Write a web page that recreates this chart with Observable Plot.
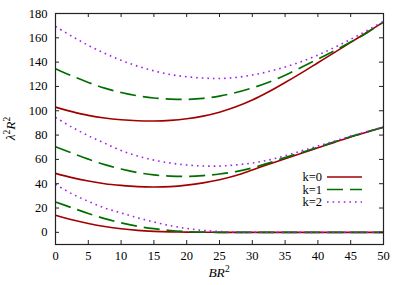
<!DOCTYPE html>
<html><head><meta charset="utf-8">
<script src="https://cdn.jsdelivr.net/npm/d3@7"></script>
<script src="https://cdn.jsdelivr.net/npm/@observablehq/plot@0.6"></script>
<style>body{margin:0;background:#fff} #chart svg{display:block} #chart svg text{font-family:"Liberation Serif","Times New Roman","DejaVu Serif",serif !important}</style>
</head><body><div id="chart"></div>
<script>
// x values (B R^2)
const xs = [0,2.5,5,7.5,10,12.5,15,17.5,20,22.5,25,27.5,30,32.5,35,37.5,40,42.5,45,47.5,50];
// lowest branch
const low_k0 = [14,10.3,7.3,4.8,2.9,1.6,0.8,0.35,0.15,0.05,0,0,0,0,0,0,0,0,0,0,0];
const low_k1 = [25,20.2,15.5,11.3,7.8,5,3,1.5,0.6,0.2,0.05,0,0,0,0,0,0,0,0,0,0];
const low_k2 = [39.5,31.7,25.5,20,16,12,8.5,5.5,3.2,1.6,0.7,0.25,0.1,0,0,0,0,0,0,0,0];
// middle branch
const mid_k0 = [48.5,45,42.2,40,38.6,37.6,37.3,37.6,38.8,40.7,43.3,46.8,51.3,56,60.5,65,69.5,74,78.5,82.5,86.5];
const mid_k1 = [70.4,65.2,60.2,55.7,52.1,49.2,47.2,46.2,46,46.7,48,50,53,57,61.5,65.7,70,74.4,78.7,82.6,86.5];
const mid_k2 = [94.5,86.5,79.5,73.3,67.3,62.8,59.4,57,55.4,54.6,54.5,55.5,57,59.5,63,67,71,75,79.2,83,86.8];
// upper branch
const up_k0 = [103,99.3,96.2,94,92.6,91.8,91.6,92.1,93.4,95.6,98.8,103.2,108.8,115.6,123.2,131.2,139.5,147.8,156.2,164.6,173];
const up_k1 = [134.6,128.7,123.3,118.6,115,112.3,110.5,109.6,109.4,110.2,112.1,115,118.8,123.5,129.2,135.8,142.5,149.3,156.5,164.2,173];
const up_k2 = [169.3,161.3,153.8,147.3,141.5,136.7,132.8,129.8,128,126.9,126.5,127.4,129.4,132.3,136,140.5,145.8,152,158.8,166,173.5];

const xTicks = [0,5,10,15,20,25,30,35,40,45,50];
const yTicks = [0,20,40,60,80,100,120,140,160,180];
const legendLabels = ["k=0","k=1","k=2"];

const series = [
  {k:0, n:"low", ys:low_k0},{k:1, n:"low", ys:low_k1},{k:2, n:"low", ys:low_k2},
  {k:0, n:"mid", ys:mid_k0},{k:1, n:"mid", ys:mid_k1},{k:2, n:"mid", ys:mid_k2},
  {k:0, n:"up", ys:up_k0},{k:1, n:"up", ys:up_k1},{k:2, n:"up", ys:up_k2}
];
const rows = series.flatMap(s => s.ys.map((y,i) => ({x: xs[i], y, k: s.k, id: s.n + s.k})));

const styles = [
  {stroke:"#a00000", strokeWidth:1.6, strokeDasharray:null, strokeLinecap:"butt"},
  {stroke:"#006f00", strokeWidth:1.7, strokeDasharray:"16,7", strokeLinecap:"butt"},
  {stroke:"#a020f0", strokeWidth:1.6, strokeDasharray:"1.6,4", strokeLinecap:"butt"}
];

const FONT = '"Liberation Serif","Times New Roman","DejaVu Serif",serif';
const W = 407, H = 285, mL = 55, mR = 24, mT = 13, mB = 41;
const innerW = W - mL - mR, innerH = H - mT - mB, tk = 4;

const plot = Plot.plot({
  width: W, height: H,
  marginLeft: mL, marginRight: mR, marginTop: mT, marginBottom: mB,
  style: {fontFamily: FONT, fontSize: "12.5px", color: "#000", background: "#fff"},
  x: {domain: [0, 50], ticks: xTicks},
  y: {domain: [-10, 180], ticks: yTicks},
  marks: [
    ...styles.map((st, k) => Plot.line(rows.filter(d => d.k === k), {
      x: "x", y: "y", z: "id", curve: "catmull-rom", clip: true,
      stroke: st.stroke, strokeWidth: st.strokeWidth, strokeDasharray: st.strokeDasharray, strokeLinecap: st.strokeLinecap
    })),
    Plot.ruleX(xTicks, {x: d => d, insetTop: innerH - tk, stroke: "#222", strokeWidth: 1}),
    Plot.ruleX(xTicks, {x: d => d, insetBottom: innerH - tk, stroke: "#222", strokeWidth: 1}),
    Plot.ruleY(yTicks, {y: d => d, insetRight: innerW - tk, stroke: "#222", strokeWidth: 1}),
    Plot.ruleY(yTicks, {y: d => d, insetLeft: innerW - tk, stroke: "#222", strokeWidth: 1}),
    Plot.axisX(xTicks, {tickSize: 0, tickPadding: 7, label: null, fontSize: 12.5}),
    Plot.axisY(yTicks, {tickSize: 0, tickPadding: 8, label: null, fontSize: 12.5}),
    Plot.frame({stroke: "#222", strokeWidth: 1.2})
  ]
});

const svg = d3.select(plot);
// axis titles
const xl = svg.append("text").attr("x", mL + innerW/2).attr("y", 277)
  .attr("text-anchor", "middle").attr("font-family", FONT).attr("font-size", 13.5).attr("fill", "#000");
xl.append("tspan").attr("font-style", "italic").text("BR");
xl.append("tspan").attr("font-size", 9.5).attr("dy", -5).text("2");

const yl = svg.append("text").attr("transform", `translate(15,${mT + innerH/2}) rotate(-90)`)
  .attr("text-anchor", "middle").attr("font-family", FONT).attr("font-size", 13.5).attr("fill", "#000");
yl.append("tspan").attr("font-style", "italic").text("λ");
yl.append("tspan").attr("font-size", 9.5).attr("dy", -5).text("2");
yl.append("tspan").attr("font-style", "italic").attr("dy", 5).text("R");
yl.append("tspan").attr("font-size", 9.5).attr("dy", -5).text("2");

// legend
const lg = svg.append("g");
legendLabels.forEach((lab, i) => {
  const yy = 177 + i * 12.5;
  lg.append("text").attr("x", 322).attr("y", yy).attr("dy", "0.35em").attr("text-anchor", "end")
    .attr("font-family", FONT).attr("font-size", 12.5).attr("fill", "#000").text(lab);
  const st = styles[i];
  lg.append("line").attr("x1", 327).attr("x2", 362).attr("y1", yy).attr("y2", yy)
    .attr("stroke", st.stroke).attr("stroke-width", st.strokeWidth)
    .attr("stroke-dasharray", st.strokeDasharray).attr("stroke-linecap", st.strokeLinecap);
});

document.getElementById("chart").appendChild(plot);
</script>
</body></html>
